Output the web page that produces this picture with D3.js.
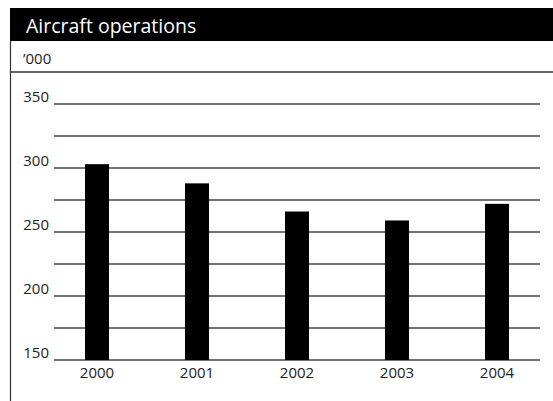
<!DOCTYPE html>
<html>
<head>
<meta charset="utf-8">
<script src="https://cdn.jsdelivr.net/npm/d3@7"></script>
<style>
  body { margin: 0; background: #fff; }
  svg { display: block; font-family: "Open Sans", "Noto Sans", sans-serif; }
</style>
</head>
<body>
<svg id="chart"></svg>
<script>
const years = ["2000", "2001", "2002", "2003", "2004"];
const operations = [303, 288, 266, 259, 272];
const gridTicks = [150, 175, 200, 225, 250, 275, 300, 325, 350];
const labelTicks = [150, 200, 250, 300, 350];

const W = 553, H = 401;
const svg = d3.select("#chart").attr("width", W).attr("height", H);

// header block
svg.append("rect")
    .attr("x", 10).attr("y", 8)
    .attr("width", W - 10).attr("height", 33)
    .attr("fill", "#000");

svg.append("text")
    .attr("x", 26).attr("y", 33)
    .attr("fill", "#fff")
    .style("font-size", "19.5px")
    .text("Aircraft operations");

// left frame and unit row
svg.append("line")
    .attr("x1", 10.5).attr("x2", 10.5)
    .attr("y1", 41).attr("y2", H)
    .attr("stroke", "#333").attr("stroke-width", 1.2);

svg.append("text")
    .attr("x", 23).attr("y", 64)
    .attr("fill", "#222")
    .style("font-size", "15px")
    .text("’000");

svg.append("line")
    .attr("x1", 10).attr("x2", W)
    .attr("y1", 72).attr("y2", 72)
    .attr("stroke", "#333").attr("stroke-width", 1.5);

const y = d3.scaleLinear().domain([150, 350]).range([360, 104]);
const x = d3.scaleBand()
    .domain(years)
    .range([47, 547])
    .paddingInner(0.76)
    .paddingOuter(0.38);

// gridlines
svg.append("g")
    .selectAll("line")
    .data(gridTicks)
    .enter().append("line")
    .attr("x1", 54).attr("x2", 540)
    .attr("y1", d => y(d)).attr("y2", d => y(d))
    .attr("stroke", "#444").attr("stroke-width", 1.3);

// y labels
svg.append("g")
    .selectAll("text")
    .data(labelTicks)
    .enter().append("text")
    .attr("x", 49)
    .attr("y", d => y(d) - 2)
    .attr("text-anchor", "end")
    .attr("fill", "#222")
    .style("font-size", "15px")
    .text(d => d);

// bars
svg.append("g")
    .selectAll("rect")
    .data(years)
    .enter().append("rect")
    .attr("x", d => x(d))
    .attr("y", (d, i) => y(operations[i]))
    .attr("width", x.bandwidth())
    .attr("height", (d, i) => y(150) - y(operations[i]))
    .attr("fill", "#000");

// x labels
svg.append("g")
    .selectAll("text")
    .data(years)
    .enter().append("text")
    .attr("x", d => x(d) + x.bandwidth() / 2)
    .attr("y", 378)
    .attr("text-anchor", "middle")
    .attr("fill", "#222")
    .style("font-size", "15px")
    .text(d => d);
</script>
</body>
</html>
